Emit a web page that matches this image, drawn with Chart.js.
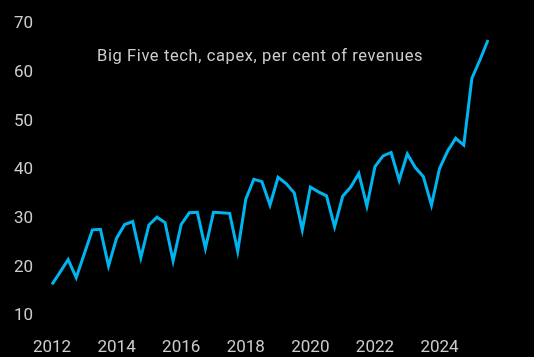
<!DOCTYPE html>
<html>
<head>
<meta charset="utf-8">
<script src="https://cdn.jsdelivr.net/npm/chart.js@4"></script>
<style>
html,body{margin:0;padding:0;background:#000;}
#wrap{width:534px;height:357px;position:relative;}
</style>
</head>
<body>
<div id="wrap"><canvas id="c" width="534" height="357"></canvas></div>
<script>
const titleText = "Big Five tech, capex, per cent of revenues";
const years = [2012,2013,2014,2015,2016,2017,2018,2019,2020,2021,2022,2023,2024,2025];
const yTicks = [10,20,30,40,50,60,70];
const capexPct = [
  16.5, 19.0, 21.6, 17.9, 22.8, 27.7, 27.8, 20.3,
  26.0, 28.8, 29.4, 22.0, 28.7, 30.3, 29.2, 21.3,
  28.8, 31.2, 31.3, 23.9, 31.3, 31.2, 31.1, 23.3,
  34.0, 38.1, 37.6, 32.8, 38.5, 37.2, 35.3, 27.7,
  36.5, 35.5, 34.7, 28.3, 34.6, 36.5, 39.3, 32.6,
  40.7, 42.9, 43.6, 37.9, 43.3, 40.5, 38.6, 32.8,
  40.3, 43.9, 46.5, 45.1, 58.8, 62.6, 66.7
];
const categories = [];
for (const y of years) for (let q = 1; q <= 4; q++) categories.push(y + " Q" + q);
categories.length = capexPct.length;

const FONT = "Roboto";
const TXT = "#cccccc";

const titlePlugin = {
  id: 'innerTitle',
  afterDraw(chart) {
    const ctx = chart.ctx;
    ctx.save();
    ctx.font = "16.5px " + FONT;
    ctx.letterSpacing = "0.6px";
    ctx.fillStyle = TXT;
    ctx.textAlign = "left";
    ctx.textBaseline = "alphabetic";
    ctx.fillText(titleText, 97, 61);
    ctx.restore();
  }
};

new Chart(document.getElementById('c'), {
  type: 'line',
  data: {
    labels: categories,
    datasets: [{
      data: capexPct,
      borderColor: '#00b4f0',
      borderWidth: 3,
      pointRadius: 0,
      tension: 0,
      fill: false
    }]
  },
  options: {
    responsive: false,
    animation: false,
    layout: { padding: { left: 14, right: 46, top: 24, bottom: 0 } },
    plugins: { legend: { display: false }, tooltip: { enabled: false } },
    scales: {
      x: {
        grid: { display: false },
        border: { display: false },
        ticks: {
          color: TXT,
          font: { family: FONT, size: 17 },
          autoSkip: false,
          maxRotation: 0,
          padding: 14,
          callback: function(v, i) {
            const lab = categories[i];
            const yr = parseInt(lab);
            return (lab.endsWith("Q1") && yr % 2 === 0) ? String(yr) : null;
          }
        },
        afterFit(s) { s.height = 41; }
      },
      y: {
        min: 10, max: 70,
        grid: { display: false },
        border: { display: false },
        afterBuildTicks(s) { s.ticks = yTicks.map(v => ({ value: v })); },
        ticks: {
          color: TXT,
          font: { family: FONT, size: 17 },
          crossAlign: 'far'
        },
        afterFit(s) { s.width = 38; }
      }
    }
  },
  plugins: [titlePlugin]
});
</script>
</body>
</html>
